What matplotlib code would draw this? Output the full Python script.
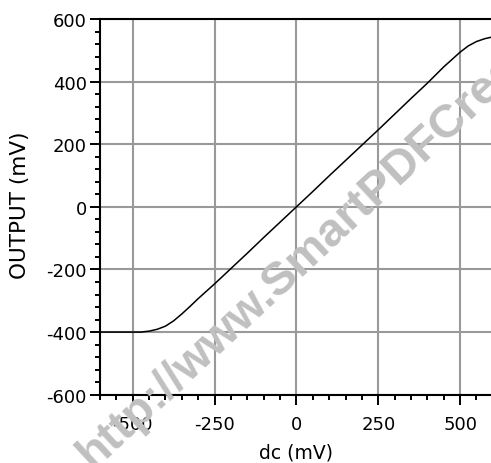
import matplotlib
matplotlib.use('Agg')
import matplotlib.pyplot as plt
from matplotlib.ticker import MultipleLocator

# data (mV)
dc = [-600, -550, -500, -475, -450, -425, -400, -375, -350, -325, -300,
      -250, -200, -150, -100, -50, 0, 50, 100, 150, 200, 250, 300, 350,
      400, 450, 500, 525, 550, 575, 600]
output = [-400, -400, -400, -400, -397, -391, -381, -364, -342, -318, -293,
          -246, -197, -148, -98, -49, 0, 49, 99, 148, 197, 246, 296, 346,
          395, 447, 494, 514, 528, 537, 543]

xticks = [-500, -250, 0, 250, 500]
yticks = [-600, -400, -200, 0, 200, 400, 600]

plt.rcParams['font.family'] = 'DejaVu Sans'
plt.rcParams['axes.unicode_minus'] = False

fig = plt.figure(figsize=(4.91, 4.64), dpi=100)
ax = fig.add_axes([0.2037, 0.1472, 0.800, 0.8097])

ax.plot(dc, output, color='black', linewidth=1.1, zorder=3)

ax.set_xlim(-600, 600)
ax.set_ylim(-600, 600)
ax.set_xticks(xticks)
ax.set_yticks(yticks)
ax.xaxis.set_minor_locator(MultipleLocator(50))
ax.yaxis.set_minor_locator(MultipleLocator(40))

ax.grid(True, which='major', color='#999999', linewidth=1.5, zorder=1)
ax.set_axisbelow(True)

for s in ['left', 'bottom', 'top']:
    ax.spines[s].set_linewidth(1.5)
ax.spines['right'].set_visible(False)

ax.tick_params(which='major', direction='out', length=7.5, width=1.4,
               labelsize=13, pad=2)
ax.tick_params(axis='x', which='major', pad=7)
ax.tick_params(which='minor', direction='out', length=3.6, width=1.4)

ax.set_xlabel('dc (mV)', fontsize=13.5)
ax.set_ylabel('OUTPUT (mV)', fontsize=15.5)
ax.xaxis.set_label_coords(0.5, -0.126)
ax.yaxis.set_label_coords(-0.178, 0.507)

# watermark
fig.text(0.19, -0.012, 'http://www.SmartPDFCreator.com', family='Liberation Sans',
         weight='bold', fontsize=34, color='#c0c0c0', rotation=43,
         rotation_mode='anchor', ha='left', va='baseline', zorder=10)

fig.savefig('out.png', dpi=100)
